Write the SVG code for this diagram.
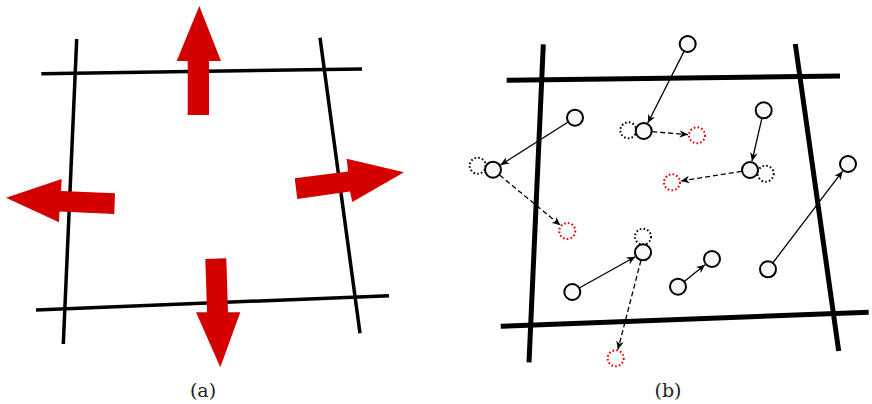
<svg xmlns="http://www.w3.org/2000/svg" width="872" height="404" viewBox="0 0 872 404">
<style>
.ga{stroke:#000;stroke-width:3.5;fill:none}
.gb{stroke:#000;stroke-width:5;fill:none}
.red{fill:#d40000}
.p{fill:#f7f7f7;stroke:#000;stroke-width:2}
.old{fill:none;stroke:#000;stroke-width:2;stroke-dasharray:1.6 2.2}
.new{fill:none;stroke:#e00000;stroke-width:2;stroke-dasharray:1.6 2.2}
.mv{stroke:#000;stroke-width:1.3;fill:none;marker-end:url(#ah)}
.mvd{stroke:#000;stroke-width:1.3;fill:none;stroke-dasharray:5 3;marker-end:url(#ah)}
</style>
<defs>
<marker id="ah" viewBox="-9 -4.5 10 9" refX="0" refY="0" markerWidth="10" markerHeight="9" markerUnits="userSpaceOnUse" orient="auto">
<path d="M0,0 L-8.5,-3.8 L-6,0 L-8.5,3.8 Z" fill="#000"/>
</marker>
</defs>
<g id="panel-a">
<g id="grid-a">
<line class="ga" x1="41.3" y1="73.7" x2="362" y2="69"/>
<line class="ga" x1="36" y1="310" x2="389" y2="295.7"/>
<line class="ga" x1="76.7" y1="39" x2="63.3" y2="344"/>
<line class="ga" x1="320" y1="37.7" x2="360" y2="333.3"/>
</g>
<g id="arrow-up"><polygon class="red" points="187.7,115 209,115 209,61 221,61 199.3,6 176.7,61 187.7,61"/></g>
<g id="arrow-left"><polygon class="red" points="115,193.3 114.3,214 59.5,211.5 59,222.3 6,197.7 61.7,179 61,191"/></g>
<g id="arrow-right"><polygon class="red" points="294.7,178.3 297.3,199 350,191.5 352.3,202 404,172.3 346.7,158.7 348,171.5"/></g>
<g id="arrow-down"><polygon class="red" points="205.3,259 226.3,258.3 228,312.3 240.3,312.3 220.3,367.3 196,312.3 207,312.3"/></g>
<text x="203" y="397" font-family="DejaVu Serif, serif" font-size="19" fill="#222" text-anchor="middle">(a)</text>
</g>
<g id="panel-b">
<g id="grid-b">
<line class="gb" x1="543.3" y1="44.3" x2="529" y2="362.3"/>
<line class="gb" x1="506.7" y1="80.3" x2="840" y2="76"/>
<line class="gb" x1="795.3" y1="44" x2="838.7" y2="351"/>
<line class="gb" x1="500.7" y1="326.3" x2="868.7" y2="312.3"/>
</g>
<g id="connectors">
<line class="mv" x1="567.8" y1="122.3" x2="500.6" y2="164.9"/>
<line class="mvd" x1="499.6" y1="175.1" x2="560.4" y2="225.3"/>
<line class="mv" x1="683.9" y1="51.6" x2="647.8" y2="123.0"/>
<line class="mvd" x1="652.2" y1="131.7" x2="688.0" y2="134.6"/>
<line class="mv" x1="761.8" y1="118.6" x2="752.0" y2="161.2"/>
<line class="mvd" x1="741.6" y1="171.3" x2="680.9" y2="180.9"/>
<line class="mv" x1="773.1" y1="262.5" x2="842.6" y2="171.2"/>
<line class="mv" x1="579.7" y1="287.8" x2="635.2" y2="256.7"/>
<line class="mvd" x1="640.9" y1="260.5" x2="617.9" y2="349.6"/>
<line class="mv" x1="684.6" y1="281.3" x2="705.0" y2="264.7"/>
</g>
<g id="old-positions">
<circle class="old" cx="477.7" cy="165.7" r="8"/>
<circle class="old" cx="628.3" cy="130.3" r="8"/>
<circle class="old" cx="765.7" cy="173.7" r="8"/>
<circle class="old" cx="643" cy="236.7" r="8"/>
</g>
<g id="new-positions">
<circle class="new" cx="567.3" cy="231" r="8"/>
<circle class="new" cx="697" cy="135.3" r="8"/>
<circle class="new" cx="672" cy="182.3" r="8"/>
<circle class="new" cx="615.7" cy="358.3" r="8"/>
</g>
<g id="p1"><circle class="p" cx="575" cy="117.7" r="8"/></g>
<g id="p1b"><circle class="p" cx="493" cy="169.7" r="8"/></g>
<g id="p2"><circle class="p" cx="687.7" cy="44" r="8"/></g>
<g id="p2b"><circle class="p" cx="643.7" cy="131" r="8"/></g>
<g id="p3"><circle class="p" cx="763.7" cy="110.3" r="8"/></g>
<g id="p3b"><circle class="p" cx="750" cy="170" r="8"/></g>
<g id="p4"><circle class="p" cx="768" cy="269.3" r="8"/></g>
<g id="p4b"><circle class="p" cx="848" cy="164" r="8"/></g>
<g id="p5"><circle class="p" cx="572.3" cy="292" r="8"/></g>
<g id="p5b"><circle class="p" cx="643" cy="252.3" r="8"/></g>
<g id="p6"><circle class="p" cx="678" cy="286.7" r="8"/></g>
<g id="p6b"><circle class="p" cx="712" cy="259" r="8"/></g>
<text x="668" y="397" font-family="DejaVu Serif, serif" font-size="19" fill="#222" text-anchor="middle">(b)</text>
</g>
</svg>
